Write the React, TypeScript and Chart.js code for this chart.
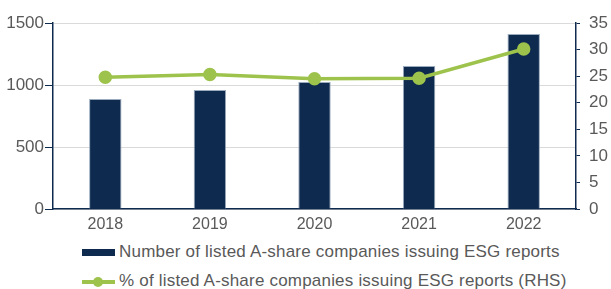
import React, { useEffect, useRef } from "react";
import { Chart, registerables } from "chart.js";

Chart.register(...registerables);

const years = ["2018", "2019", "2020", "2021", "2022"];
const companiesIssuing = [887, 960, 1024, 1153, 1411];
const pctIssuing = [24.8, 25.3, 24.5, 24.6, 30.1];
const barLabel = "Number of listed A-share companies issuing ESG reports";
const lineLabel = "% of listed A-share companies issuing ESG reports (RHS)";

const NAVY = "#0e2a4f";
const GREEN = "#9dc34c";
const TEXT = "#595959";
const FONT = "'Liberation Sans', Arial, sans-serif";

export default function App() {
  const ref = useRef<HTMLCanvasElement | null>(null);

  useEffect(() => {
    if (!ref.current) return;
    const chart = new Chart(ref.current, {
      type: "bar",
      data: {
        labels: years,
        datasets: [
          {
            type: "line",
            label: lineLabel,
            data: pctIssuing,
            yAxisID: "y1",
            borderColor: GREEN,
            backgroundColor: GREEN,
            pointBackgroundColor: GREEN,
            pointBorderColor: GREEN,
            borderWidth: 3.5,
            pointRadius: 5,
            tension: 0,
            order: 0,
          },
          {
            type: "bar",
            label: barLabel,
            data: companiesIssuing,
            yAxisID: "y",
            backgroundColor: NAVY,
            borderColor: "#9aabbd",
            borderWidth: 1,
            categoryPercentage: 1,
            barPercentage: 0.31,
            order: 1,
          },
        ],
      },
      options: {
        animation: false,
        responsive: false,
        maintainAspectRatio: false,
        layout: { padding: { top: 23, left: 0, right: 0, bottom: 0 } },
        plugins: { legend: { display: false }, tooltip: { enabled: false } },
        scales: {
          x: {
            grid: { display: false, drawTicks: false },
            border: { color: NAVY, width: 1.5 },
            ticks: { color: TEXT, font: { family: FONT, size: 16 }, padding: 6 },
            afterFit: (s: any) => {
              s.height = 31;
            },
          },
          y: {
            position: "left",
            min: 0,
            max: 1500,
            ticks: {
              stepSize: 500,
              color: TEXT,
              font: { family: FONT, size: 17 },
              padding: 1,
              callback: (v: any) => String(v),
            },
            grid: { color: "#dadada", lineWidth: 1, tickColor: NAVY, tickLength: 8 },
            border: { color: NAVY, width: 1.5 },
            afterFit: (s: any) => {
              s.width = 53;
            },
          },
          y1: {
            position: "right",
            min: 0,
            max: 35,
            ticks: { stepSize: 5, color: TEXT, font: { family: FONT, size: 17 }, padding: 9 },
            grid: { drawOnChartArea: false, tickColor: NAVY, tickLength: 4 },
            border: { color: NAVY, width: 1.5 },
            afterFit: (s: any) => {
              s.width = 35;
            },
          },
        },
      },
    });
    return () => chart.destroy();
  }, []);

  const rowText: React.CSSProperties = {
    position: "absolute",
    left: 119,
    fontFamily: FONT,
    fontSize: 17,
    letterSpacing: "0.2px",
    color: TEXT,
    lineHeight: "20px",
    whiteSpace: "nowrap",
  };

  return (
    <div style={{ position: "absolute", left: 0, top: 0, width: 611, height: 289, background: "#fff", overflow: "hidden" }}>
      <canvas ref={ref} width={611} height={240} style={{ position: "absolute", left: 0, top: 0, width: 611, height: 240 }} />
      <div style={{ position: "absolute", left: 82, top: 249, width: 33, height: 7, background: NAVY }} />
      <div style={{ ...rowText, top: 242 }}>{barLabel}</div>
      <div style={{ position: "absolute", left: 82, top: 280, width: 33, height: 4, background: GREEN }} />
      <div style={{ position: "absolute", left: 93, top: 277, width: 10, height: 10, borderRadius: 5, background: GREEN }} />
      <div style={{ ...rowText, top: 271 }}>{lineLabel}</div>
    </div>
  );
}
